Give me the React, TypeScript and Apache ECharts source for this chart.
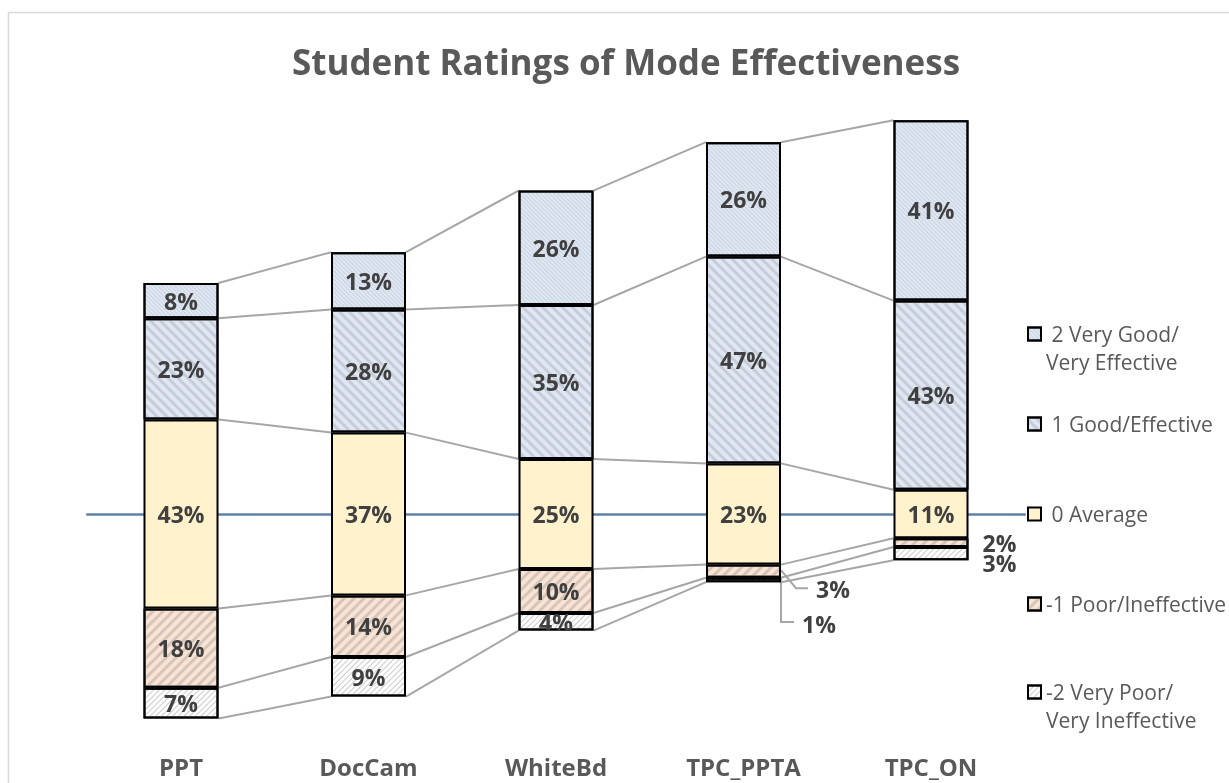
import React, { useEffect, useRef } from 'react';
import * as echarts from 'echarts';

// ---------- data ----------
const categories = ['PPT', 'DocCam', 'WhiteBd', 'TPC_PPTA', 'TPC_ON'];
const veryPoor = [7, 9, 4, 1, 3];     // -2 Very Poor/Very Ineffective
const poor = [18, 14, 10, 3, 2];      // -1 Poor/Ineffective
const average = [43, 37, 25, 23, 11]; // 0 Average
const good = [23, 28, 35, 47, 43];    // 1 Good/Effective
const veryGood = [8, 13, 26, 26, 41]; // 2 Very Good/Very Effective
const levelNames = [
  '-2 Very Poor/Very Ineffective',
  '-1 Poor/Ineffective',
  '0 Average',
  '1 Good/Effective',
  '2 Very Good/Very Effective',
];

// ---------- styles ----------
const FONT = 'Open Sans';
const levelValues = [veryPoor, poor, average, good, veryGood];
const levelStyles = [
  { color: '#ffffff', decal: { symbol: 'rect', symbolSize: 1, color: 'rgba(140,140,140,0.45)', dashArrayX: [1, 0], dashArrayY: [1, 2.5], rotation: -Math.PI / 4 } },
  { color: '#fbe3d4', decal: { symbol: 'rect', symbolSize: 1, color: 'rgba(150,150,150,0.38)', dashArrayX: [1, 0], dashArrayY: [3, 4], rotation: -Math.PI / 4 } },
  { color: '#fff2cc', decal: null },
  { color: '#dde8f4', decal: { symbol: 'rect', symbolSize: 1, color: 'rgba(160,145,150,0.33)', dashArrayX: [1, 0], dashArrayY: [3, 4], rotation: Math.PI / 4 } },
  { color: '#dde8f4', decal: { symbol: 'rect', symbolSize: 1, color: 'rgba(160,145,150,0.25)', dashArrayX: [1, 0], dashArrayY: [1, 2], rotation: Math.PI / 4 } },
];
const legendSpecs = [
  { level: 4, text: '\n\u00a02 Very Good/\nVery Effective', cy: 334, lines: 3 },
  { level: 3, text: '\u00a01 Good/Effective', cy: 424, lines: 1 },
  { level: 2, text: '\u00a00 Average', cy: 514, lines: 1 },
  { level: 1, text: '-1 Poor/Ineffective', cy: 604, lines: 1 },
  { level: 0, text: '\n-2 Very Poor/\nVery Ineffective', cy: 692, lines: 3 },
];
// labels placed outside small segments (level index, category index)
// "stackWith": the label of this level is shown together with the next lower level's label
const outsideLabels = [
  { level: 1, cat: 3, distance: 35, dy: 18, leader: [[0, -1], [15, 17], [27, 17]], stackWith: false, hidden: false },
  { level: 0, cat: 3, distance: 21, dy: 44, leader: [[0, -2], [0, 42], [13, 42]], stackWith: false, hidden: false },
  { level: 1, cat: 4, distance: 14, dy: 10, leader: null, stackWith: true, hidden: false },
  { level: 0, cat: 4, distance: 14, dy: 0, leader: null, stackWith: false, hidden: true },
];

export default function App() {
  const ref = useRef<HTMLDivElement>(null);
  useEffect(() => {
    if (!ref.current) return;
    const chart = echarts.init(ref.current, null, { renderer: 'svg' });
    const n = categories.length;
    // offset so that the middle of "Average" sits on zero
    const base = categories.map((_, i) => -(veryPoor[i] + poor[i] + average[i] / 2));
    // boundaries of each stacked segment
    const bounds = categories.map((_, i) => {
      const b = [base[i]];
      levelValues.forEach((vals) => b.push(b[b.length - 1] + vals[i]));
      return b;
    });

    const barSeries = levelValues.map((vals, li) => ({
      type: 'bar',
      name: levelNames[li],
      stack: 'total',
      stackStrategy: 'all',
      barWidth: '40%',
      xAxisIndex: 0,
      yAxisIndex: 0,
      z: 3,
      emphasis: { disabled: true },
      itemStyle: {
        color: levelStyles[li].color,
        borderColor: '#000000',
        borderWidth: 2,
        ...(levelStyles[li].decal ? { decal: levelStyles[li].decal } : {}),
      },
      label: {
        show: true,
        position: 'inside',
        formatter: '{c}%',
        fontFamily: FONT,
        fontSize: 23,
        fontWeight: 'bold',
        color: '#404040',
      },
      data: vals.map((v, ci) => {
        const o = outsideLabels.find((x) => x.level === li && x.cat === ci);
        if (!o) return v;
        if (o.hidden) return { value: v, label: { show: false } };
        const lbl: any = { position: 'right', distance: o.distance, offset: [0, o.dy] };
        if (o.stackWith) {
          lbl.formatter = `${v}%\n${levelValues[li - 1][ci]}%`;
          lbl.lineHeight = 20;
        }
        return { value: v, label: lbl };
      }),
    }));

    const option: any = {
      animation: false,
      textStyle: { fontFamily: FONT },
      title: {
        text: 'Student Ratings of Mode Effectiveness',
        left: 626,
        top: 44,
        textAlign: 'center',
        padding: 0,
        textStyle: { fontFamily: FONT, fontSize: 35, fontWeight: 'bold', color: '#595959' },
      },
      graphic: [
        {
          type: 'rect',
          silent: true,
          z: -10,
          shape: { x: 8.5, y: 12.5, width: 1400, height: 1000 },
          style: { fill: 'none', stroke: '#d9d9d9', lineWidth: 1.5 },
        },
      ],
      legend: legendSpecs.map((s) => ({
        data: [levelNames[s.level]],
        orient: 'vertical',
        left: 1027,
        top: s.cy - s.lines * 14,
        padding: 0,
        icon: 'rect',
        itemWidth: 13,
        itemHeight: 13,
        selectedMode: false,
        formatter: () => s.text,
        textStyle: { fontFamily: FONT, fontSize: 21, color: '#595959', lineHeight: 28 },
      })),
      grid: { left: 87.25, width: 937.5, top: 74, bottom: 49, containLabel: false },
      xAxis: [
        {
          type: 'category',
          data: categories,
          position: 'bottom',
          axisLine: { show: true, onZero: true, lineStyle: { color: '#5f82a6', width: 2.5 } },
          axisTick: { show: false },
          axisLabel: { show: false },
          splitLine: { show: false },
          z: 0,
        },
        {
          type: 'category',
          data: categories,
          position: 'bottom',
          axisLine: { show: false, onZero: false },
          axisTick: { show: false },
          axisLabel: { show: true, margin: 20, fontFamily: FONT, fontSize: 24, fontWeight: 'bold', color: '#595959' },
          splitLine: { show: false },
        },
      ],
      yAxis: {
        type: 'value',
        min: -50,
        max: 100,
        show: false,
        splitLine: { show: false },
      },
      series: [
        {
          type: 'bar',
          name: 'base',
          stack: 'total',
          stackStrategy: 'all',
          barWidth: '40%',
          silent: true,
          itemStyle: { color: 'rgba(0,0,0,0)', borderWidth: 0 },
          label: { show: false },
          emphasis: { disabled: true },
          data: base,
        },
        ...barSeries,
        {
          type: 'custom',
          name: 'seriesLines',
          coordinateSystem: 'cartesian2d',
          xAxisIndex: 0,
          yAxisIndex: 0,
          silent: true,
          z: 1,
          encode: { x: 0, y: 1 },
          data: categories.map((_, i) => [i, 0]),
          renderItem: (params: any, api: any) => {
            const i = api.value(0);
            const hw = api.size([1, 0])[0] * 0.2;
            const children: any[] = [];
            if (i < n - 1) {
              for (let k = 0; k < bounds[i].length; k++) {
                const a = api.coord([i, bounds[i][k]]);
                const b = api.coord([i + 1, bounds[i + 1][k]]);
                children.push({
                  type: 'line',
                  shape: { x1: a[0] + hw, y1: a[1], x2: b[0] - hw, y2: b[1] },
                  style: { stroke: '#a6a6a6', lineWidth: 2 },
                });
              }
            }
            outsideLabels
              .filter((o) => o.cat === i && o.leader)
              .forEach((o) => {
                const mid = (bounds[i][o.level] + bounds[i][o.level + 1]) / 2;
                const p = api.coord([i, mid]);
                const x0 = p[0] + hw;
                children.push({
                  type: 'polyline',
                  shape: { points: (o.leader as number[][]).map(([dx, dy]) => [x0 + dx, p[1] + dy]) },
                  style: { stroke: '#a6a6a6', lineWidth: 2, fill: 'none' },
                });
              });
            return { type: 'group', children };
          },
        },
      ],
    };
    chart.setOption(option);
    return () => chart.dispose();
  }, []);
  return <div ref={ref} style={{ position: 'fixed', left: 0, top: 0, width: 1229, height: 783 }} />;
}
